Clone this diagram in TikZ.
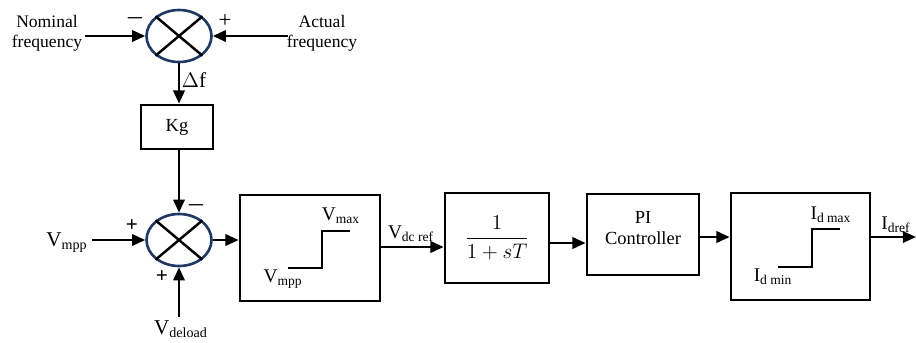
\documentclass[tikz,border=0pt]{standalone}
\usepackage{amsmath}
\usepackage{fontspec}
\setmainfont{Liberation Serif}
\usepackage{xcolor}
\usetikzlibrary{arrows.meta, shapes.geometric}
\definecolor{sumblue}{RGB}{31,56,100}

\begin{document}
\begin{tikzpicture}[
  x=0.02cm, y=-0.02cm,
  >={Triangle[length=7.5pt,width=6.5pt]},
  line width=1.4pt,
  sumnode/.style={draw=sumblue, ellipse, line width=1.5pt, inner sep=0pt,
    minimum width=1.3cm, minimum height=1.04cm},
  blk/.style={draw, line width=1.6pt, align=center, inner sep=0pt},
  lbl/.style={align=center, inner sep=1pt, font=\fontsize{10}{11.5}\selectfont},
  sig/.style={inner sep=0pt, font=\fontsize{12}{12}\selectfont\bfseries}
]
\useasboundingbox (0,0) rectangle (916,342);

% summing points
\node[sumnode] (sum1) at (179,36) {};
\node[sumnode] (sum2) at (179,240) {};
\foreach \s in {sum1,sum2} {
  \draw (\s.40) -- (\s.220);
  \draw (\s.140) -- (\s.-40);
}

% blocks
\node[blk, minimum width=1.44cm, minimum height=0.88cm,
  font=\fontsize{10.5}{12}\selectfont] (kg) at (177,127) {Kg};
\node[blk, minimum width=2.8cm, minimum height=2.12cm] (box1) at (310,248) {};
\node[blk, minimum width=2.08cm, minimum height=1.8cm,
  font=\fontsize{12.5}{14}\selectfont] (box2) at (497,238) {$\dfrac{1}{1+sT}$};
\node[blk, minimum width=2.24cm, minimum height=1.62cm] (box3) at (643,234.5) {};
\node[blk, minimum width=2.78cm, minimum height=2.14cm] (box4) at (800.5,246.5) {};
\node[lbl, font=\fontsize{10.5}{12}\selectfont] (pi) at (643,228) {PI\\Controller};

% limiter curves
\draw[line width=1pt] (288,268) -- (322,268) -- (322,231) -- (350,231);
\draw[line width=1pt] (778,267) -- (812,267) -- (812,229) -- (840,229);

% texts
\node[lbl] (nom) at (47,33) {Nominal\\frequency};
\node[lbl] (act) at (322,33) {Actual\\frequency};
\node[lbl, font=\fontsize{12}{12}\selectfont] (df) at (194,80) {$\Delta$f};
\node[lbl, font=\fontsize{12}{12}\selectfont] (vmpp) at (67,243) {V\textsubscript{mpp}};
\node[lbl, font=\fontsize{12}{12}\selectfont] (vdl) at (181,329) {V\textsubscript{deload}};
\node[lbl, font=\fontsize{11}{12}\selectfont] (vmax) at (341,216) {V\textsubscript{max}};
\node[lbl, font=\fontsize{11}{12}\selectfont] (vmin) at (283,279) {V\textsubscript{mpp}};
\node[lbl, font=\fontsize{11}{12}\selectfont] (vdc) at (411,234) {V\textsubscript{dc ref}};
\node[lbl, font=\fontsize{11}{12}\selectfont] (idmax) at (831,215) {I\textsubscript{d max}};
\node[lbl, font=\fontsize{11}{12}\selectfont] (idmin) at (773,277) {I\textsubscript{d min}};
\node[lbl, font=\fontsize{11}{12}\selectfont] (idref) at (896,225) {I\textsubscript{dref}};

% signs
\node[sig, font=\fontsize{13}{13}\selectfont] (s1a) at (135,18) {$\boldsymbol{-}$};
\node[sig, font=\fontsize{13}{13}\selectfont] (s1b) at (225,21) {+};
\node[sig] (s2a) at (196,205) {$\boldsymbol{-}$};
\node[sig] (s2b) at (132,226) {+};
\node[sig] (s2c) at (162,277) {+};

% arrow ends
\coordinate (nomin) at (85,36);
\coordinate (actin) at (288,36);
\coordinate (vmppin) at (92,240);
\coordinate (vdlin) at (179,317);
\coordinate (l1) at (0,247);
\coordinate (l2) at (0,243);
\coordinate (l3) at (0,237);
\coordinate (out) at (916,237);

\draw[->] (nomin) -- (sum1.west);
\draw[->] (actin) -- (sum1.east);
\draw[->] (sum1.south) -- (sum1.south |- kg.north);
\draw[->] (sum1.south |- kg.south) -- (sum2.north);
\draw[->] (vmppin) -- (sum2.west);
\draw[->] (vdlin) -- (sum2.south);
\draw[->] (sum2.east) -- (box1.west |- sum2.east);
\draw[->] (box1.east |- l1) -- (box2.west |- l1);
\draw[->] (box2.east |- l2) -- (box3.west |- l2);
\draw[->] (box3.east |- l3) -- (box4.west |- l3);
\draw[->] (box4.east |- l3) -- (out);
\end{tikzpicture}
\end{document}
